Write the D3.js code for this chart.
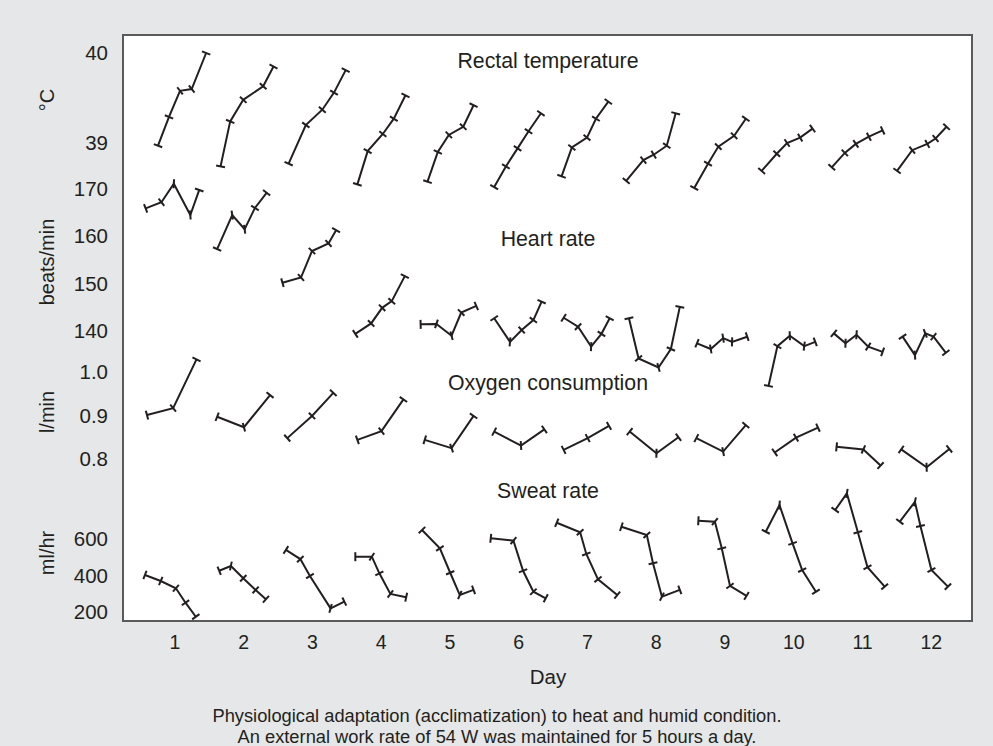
<!DOCTYPE html>
<html>
<head>
<meta charset="utf-8">
<script src="https://cdn.jsdelivr.net/npm/d3@7"></script>
<style>
  body { margin: 0; background: #e6e7e8; }
  svg { display: block; font-family: "Liberation Sans", Arial, sans-serif; }
</style>
</head>
<body>
<svg id="chart" width="993" height="746"></svg>
<script>
/* global d3 */

var days = [1, 2, 3, 4, 5, 6, 7, 8, 9, 10, 11, 12];

// time of each reading, as a fraction of a day around the day mark
var tempTime = [
  [-0.24, -0.08, 0.08, 0.25, 0.46], [-0.33, -0.19, 0.00, 0.29, 0.44],
  [-0.34, -0.09, 0.15, 0.32, 0.49], [-0.34, -0.19, 0.03, 0.19, 0.36],
  [-0.32, -0.17, -0.01, 0.20, 0.35], [-0.35, -0.18, -0.01, 0.15, 0.33],
  [-0.37, -0.22, 0.00, 0.13, 0.31], [-0.43, -0.18, -0.03, 0.16, 0.29],
  [-0.44, -0.24, -0.09, 0.14, 0.31], [-0.46, -0.24, -0.09, 0.10, 0.28],
  [-0.44, -0.25, -0.09, 0.10, 0.30], [-0.49, -0.27, -0.05, 0.07, 0.23]
];
var tempValue = [
  [38.97, 39.29, 39.58, 39.60, 40.00], [38.74, 39.24, 39.48, 39.63, 39.85],
  [38.77, 39.20, 39.37, 39.56, 39.81], [38.54, 38.91, 39.10, 39.27, 39.53],
  [38.57, 38.90, 39.09, 39.18, 39.42], [38.51, 38.74, 38.94, 39.13, 39.33],
  [38.63, 38.95, 39.06, 39.27, 39.46], [38.58, 38.81, 38.87, 38.97, 39.33],
  [38.50, 38.77, 38.96, 39.08, 39.27], [38.69, 38.88, 39.00, 39.06, 39.16],
  [38.73, 38.89, 38.99, 39.07, 39.14], [38.69, 38.92, 38.99, 39.05, 39.18]
];

var heartTime = [
  [-0.42, -0.19, -0.01, 0.23, 0.36], [-0.38, -0.16, 0.02, 0.17, 0.34],
  [-0.43, -0.16, 0.00, 0.24, 0.35], [-0.37, -0.14, 0.02, 0.16, 0.35],
  [-0.42, -0.19, 0.03, 0.17, 0.39], [-0.35, -0.12, 0.05, 0.22, 0.34],
  [-0.34, -0.13, 0.06, 0.21, 0.33], [-0.39, -0.25, 0.04, 0.22, 0.35],
  [-0.40, -0.20, -0.02, 0.11, 0.33], [-0.36, -0.23, -0.05, 0.16, 0.32],
  [-0.41, -0.24, -0.08, 0.09, 0.30], [-0.41, -0.23, -0.08, 0.04, 0.22]
];
var heartValue = [
  [165.9, 167.2, 171.1, 164.5, 169.8], [157.3, 164.5, 161.5, 166.0, 169.2],
  [150.2, 151.3, 156.9, 158.5, 161.3], [139.4, 141.6, 144.9, 146.3, 151.6],
  [141.4, 141.5, 139.0, 143.9, 145.3], [142.7, 137.7, 140.2, 142.3, 146.2],
  [142.8, 140.9, 136.7, 139.4, 142.7], [142.7, 134.2, 132.3, 136.2, 145.1],
  [137.4, 136.2, 138.5, 137.7, 138.8], [128.4, 136.8, 139.0, 136.8, 137.7],
  [139.5, 137.4, 139.2, 136.7, 135.6], [138.8, 134.9, 139.5, 138.8, 135.4]
];

var oxygenTime = [
  [-0.40, -0.02, 0.32], [-0.38, 0.01, 0.39], [-0.36, 0.00, 0.31],
  [-0.34, 0.01, 0.33], [-0.36, 0.03, 0.35], [-0.35, 0.04, 0.38],
  [-0.34, 0.01, 0.32], [-0.38, 0.01, 0.33], [-0.41, -0.02, 0.31],
  [-0.27, 0.04, 0.36], [-0.37, 0.02, 0.27], [-0.43, -0.06, 0.27]
];
var oxygenValue = [
  [0.901, 0.917, 1.029], [0.897, 0.873, 0.947], [0.848, 0.899, 0.952],
  [0.844, 0.864, 0.937], [0.844, 0.825, 0.899], [0.863, 0.831, 0.868],
  [0.821, 0.848, 0.876], [0.863, 0.813, 0.850], [0.848, 0.817, 0.878],
  [0.815, 0.849, 0.872], [0.828, 0.822, 0.785], [0.822, 0.781, 0.823]
];

var sweatTime = [
  [-0.43, -0.20, 0.02, 0.16, 0.31], [-0.35, -0.18, 0.00, 0.18, 0.33],
  [-0.38, -0.17, -0.03, 0.27, 0.47], [-0.37, -0.13, -0.02, 0.14, 0.37],
  [-0.40, -0.14, 0.01, 0.15, 0.35], [-0.40, -0.07, 0.07, 0.22, 0.40],
  [-0.44, -0.10, -0.01, 0.16, 0.44], [-0.50, -0.13, -0.04, 0.09, 0.35],
  [-0.38, -0.14, -0.04, 0.08, 0.32], [-0.40, -0.20, -0.01, 0.13, 0.33],
  [-0.39, -0.22, -0.06, 0.08, 0.33], [-0.45, -0.23, -0.15, 0.01, 0.25]
];
var sweatValue = [
  [403, 370, 330, 251, 174], [426, 452, 385, 321, 270],
  [540, 490, 397, 220, 257], [503, 503, 412, 299, 281],
  [649, 549, 415, 293, 321], [604, 591, 426, 311, 275],
  [689, 637, 518, 379, 293], [667, 622, 467, 284, 321],
  [700, 695, 549, 343, 288], [640, 786, 576, 430, 311],
  [759, 850, 637, 445, 339], [695, 804, 671, 430, 339]
];

var tempTicks = [39, 40],
  heartTicks = [140, 150, 160, 170],
  oxygenTicks = [0.8, 0.9, 1.0],
  sweatTicks = [200, 400, 600];

var ink = "#231f20";
var svg = d3.select("#chart");

svg.append("rect")
  .attr("width", 993)
  .attr("height", 746)
  .attr("fill", "#e6e7e8");

svg.append("rect")
  .attr("x", 123)
  .attr("y", 35)
  .attr("width", 849)
  .attr("height", 586)
  .attr("fill", "#fff")
  .attr("stroke", "#5a5a5a")
  .attr("stroke-width", 2);

var x = d3.scaleLinear().domain([1, 12]).range([174.5, 930.75]);

var panels = [
  { title: "Rectal temperature", titleY: 68, unit: "\u00b0C", unitY: 100,
    time: tempTime, value: tempValue, ticks: tempTicks, format: d3.format("d"),
    y: d3.scaleLinear().domain([39, 40]).range([143, 53]) },
  { title: "Heart rate", titleY: 246, unit: "beats/min", unitY: 262,
    time: heartTime, value: heartValue, ticks: heartTicks, format: d3.format("d"),
    y: d3.scaleLinear().domain([140, 170]).range([331, 189]) },
  { title: "Oxygen consumption", titleY: 390, unit: "l/min", unitY: 412,
    time: oxygenTime, value: oxygenValue, ticks: oxygenTicks, format: d3.format(".1f"),
    y: d3.scaleLinear().domain([0.8, 1.0]).range([459, 372]) },
  { title: "Sweat rate", titleY: 498, unit: "ml/hr", unitY: 553,
    time: sweatTime, value: sweatValue, ticks: sweatTicks, format: d3.format("d"),
    y: d3.scaleLinear().domain([200, 600]).range([612, 539]) }
];

var line = d3.line();
var half = 4.5; // half length of the little cross ticks

panels.forEach(function(p) {
  var g = svg.append("g");

  // y labels only, no tick lines
  g.append("g")
    .attr("transform", "translate(112,0)")
    .call(d3.axisLeft(p.y).tickValues(p.ticks).tickSize(0).tickPadding(4).tickFormat(p.format))
    .call(function(a) { a.select(".domain").remove(); })
    .attr("font-family", null)
    .attr("font-size", 20.5)
    .selectAll("text")
    .attr("fill", ink);

  g.append("text")
    .attr("transform", "translate(54," + p.unitY + ") rotate(-90)")
    .attr("text-anchor", "middle")
    .attr("font-size", 20)
    .attr("fill", ink)
    .text(p.unit);

  g.append("text")
    .attr("x", 548)
    .attr("y", p.titleY)
    .attr("text-anchor", "middle")
    .attr("font-size", 21.3)
    .attr("fill", ink)
    .text(p.title);

  p.value.forEach(function(vals, i) {
    var pts = vals.map(function(v, j) {
      return [x(days[i] + p.time[i][j]), p.y(v)];
    });

    g.append("path")
      .attr("d", line(pts))
      .attr("fill", "none")
      .attr("stroke", ink)
      .attr("stroke-width", 2)
      .attr("stroke-linejoin", "miter");

    // cross tick at every reading, across the line's local direction
    pts.forEach(function(pt, j) {
      var dx = 0, dy = 0;
      [pts[j - 1], pts[j + 1]].forEach(function(q, k) {
        if (!q) return;
        var ex = k ? q[0] - pt[0] : pt[0] - q[0],
          ey = k ? q[1] - pt[1] : pt[1] - q[1],
          len = Math.sqrt(ex * ex + ey * ey) || 1;
        dx += ex / len;
        dy += ey / len;
      });
      var n = Math.sqrt(dx * dx + dy * dy) || 1;
      var nx = -dy / n, ny = dx / n;
      g.append("line")
        .attr("x1", pt[0] - nx * half)
        .attr("y1", pt[1] - ny * half)
        .attr("x2", pt[0] + nx * half)
        .attr("y2", pt[1] + ny * half)
        .attr("stroke", ink)
        .attr("stroke-width", 2);
    });
  });
});

// day axis: labels only
svg.append("g")
  .attr("transform", "translate(0,622)")
  .call(d3.axisBottom(x).tickValues(days).tickSize(0).tickPadding(13).tickFormat(d3.format("d")))
  .call(function(a) { a.select(".domain").remove(); })
  .attr("font-family", null)
  .attr("font-size", 19.5)
  .selectAll("text")
  .attr("fill", ink);

svg.append("text")
  .attr("x", 548)
  .attr("y", 684)
  .attr("text-anchor", "middle")
  .attr("font-size", 20.5)
  .attr("fill", ink)
  .text("Day");

var caption = [
  "Physiological adaptation (acclimatization) to heat and humid condition.",
  "An external work rate of 54 W was maintained for 5 hours a day."
];

svg.selectAll(".caption")
  .data(caption)
  .enter()
  .append("text")
  .attr("class", "caption")
  .attr("x", 497)
  .attr("y", function(d, i) { return 722 + i * 21; })
  .attr("text-anchor", "middle")
  .attr("font-size", 18.3)
  .attr("fill", ink)
  .text(function(d) { return d; });
</script>
</body>
</html>
